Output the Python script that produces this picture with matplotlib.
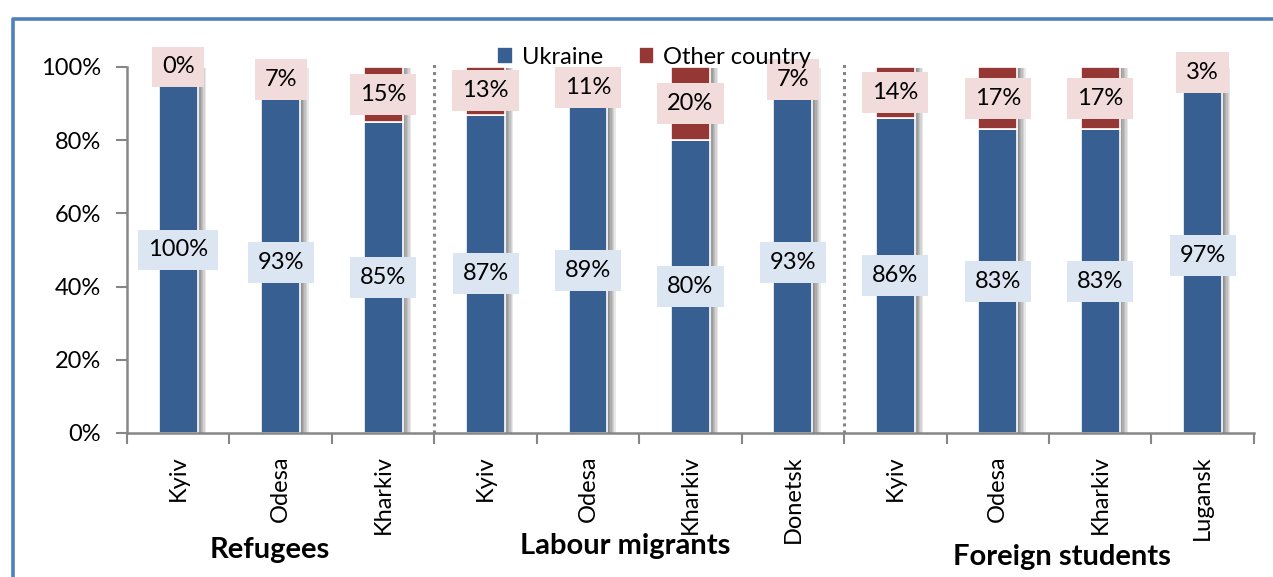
import numpy as np
import matplotlib
matplotlib.use('Agg')
import matplotlib.pyplot as plt
import matplotlib.patheffects as pe
from matplotlib.lines import Line2D

# --- data ---
cities = ['Kyiv', 'Odesa', 'Kharkiv',
          'Kyiv', 'Odesa', 'Kharkiv', 'Donetsk',
          'Kyiv', 'Odesa', 'Kharkiv', 'Lugansk']
ukraine = [100, 93, 85, 87, 89, 80, 93, 86, 83, 83, 97]
other_country = [0, 7, 15, 13, 11, 20, 7, 14, 17, 17, 3]
groups = ['Refugees', 'Labour migrants', 'Foreign students']
group_x = [0.895, 4.36, 8.63]
group_y = [-0.32, -0.31, -0.34]
separators = [2.5, 6.5]

blue = '#375F91'
red = '#953735'
blue_box = '#DCE6F2'
red_box = '#F2DCDB'
grey = '#868686'

plt.rcParams['font.family'] = ['Lato', 'DejaVu Sans']

fig = plt.figure(figsize=(12.73, 5.77), dpi=100)
ax = fig.add_axes([0.0998, 0.2496, 0.8852, 0.6343])

x = np.arange(len(cities))
ukr = np.array(ukraine) / 100
oth = np.array(other_country) / 100

# soft shadow to the right of each bar
shadow = [pe.SimplePatchShadow(offset=(d, -0.5), shadow_rgbFace='#000000', alpha=0.09)
          for d in (1, 2, 3, 4, 5, 6)]
width = 0.38
ax.bar(x, ukr + oth, width, color='none', edgecolor='none',
       path_effects=shadow + [pe.Normal()], zorder=1)
b1 = ax.bar(x, ukr, width, color=blue, edgecolor='white', linewidth=1.2,
            label='Ukraine', zorder=2)
b2 = ax.bar(x, oth, width, bottom=ukr, color=red, edgecolor='white', linewidth=1.2,
            label='Other country', zorder=2)

for xi, u, o in zip(x, ukr, oth):
    ax.text(xi, u / 2, f'{round(u * 100)}%', ha='center', va='center', fontsize=17,
            bbox=dict(boxstyle='square,pad=0.42', fc=blue_box, ec='none'), zorder=4)
    ax.text(xi, u + o / 2, f'{round(o * 100)}%', ha='center', va='center', fontsize=17,
            bbox=dict(boxstyle='square,pad=0.42', fc=red_box, ec='none'), zorder=4)

for s in separators:
    ax.plot([s, s], [0, 1.015], color=grey, linestyle=(0, (1, 1.3)), linewidth=2.2,
            clip_on=False, zorder=3)

ax.set_xlim(-0.5, len(cities) - 0.5)
ax.set_ylim(0, 1)
ax.set_yticks(np.arange(0, 1.01, 0.2))
ax.set_yticklabels([f'{int(v * 100)}%' for v in np.arange(0, 1.01, 0.2)], fontsize=17)
ax.set_xticks(np.arange(-0.5, len(cities)), minor=False)
ax.set_xticklabels([])
ax.set_xticks(x, minor=True)
ax.set_xticklabels(cities, minor=True, rotation=90, fontsize=17, va='top')
ax.tick_params(axis='x', which='minor', length=0, pad=16)
ax.tick_params(axis='x', which='major', length=8, width=1.5, color=grey)
ax.tick_params(axis='y', length=8, width=1.5, color=grey, pad=11)

for side in ('top', 'right'):
    ax.spines[side].set_visible(False)
for side in ('left', 'bottom'):
    ax.spines[side].set_color(grey)
    ax.spines[side].set_linewidth(1.8)

for name, gx, gy in zip(groups, group_x, group_y):
    ax.text(gx, gy, name, ha='center', va='center', fontsize=21, fontweight='bold',
            transform=ax.get_xaxis_transform())

fig.legend(handles=[b1, b2], loc='center', bbox_to_anchor=(0.514, 0.901),
           ncol=2, frameon=False, fontsize=17, handlelength=0.65, handleheight=0.75,
           handletextpad=0.4, columnspacing=1.5)

# chart frame (left and top edges)
fig.add_artist(Line2D([0.0102, 0.0102, 1.0], [0.0, 0.9675, 0.9675],
                      transform=fig.transFigure, color='#4F81BD', linewidth=2.6))

fig.savefig('out.png', dpi=100)
